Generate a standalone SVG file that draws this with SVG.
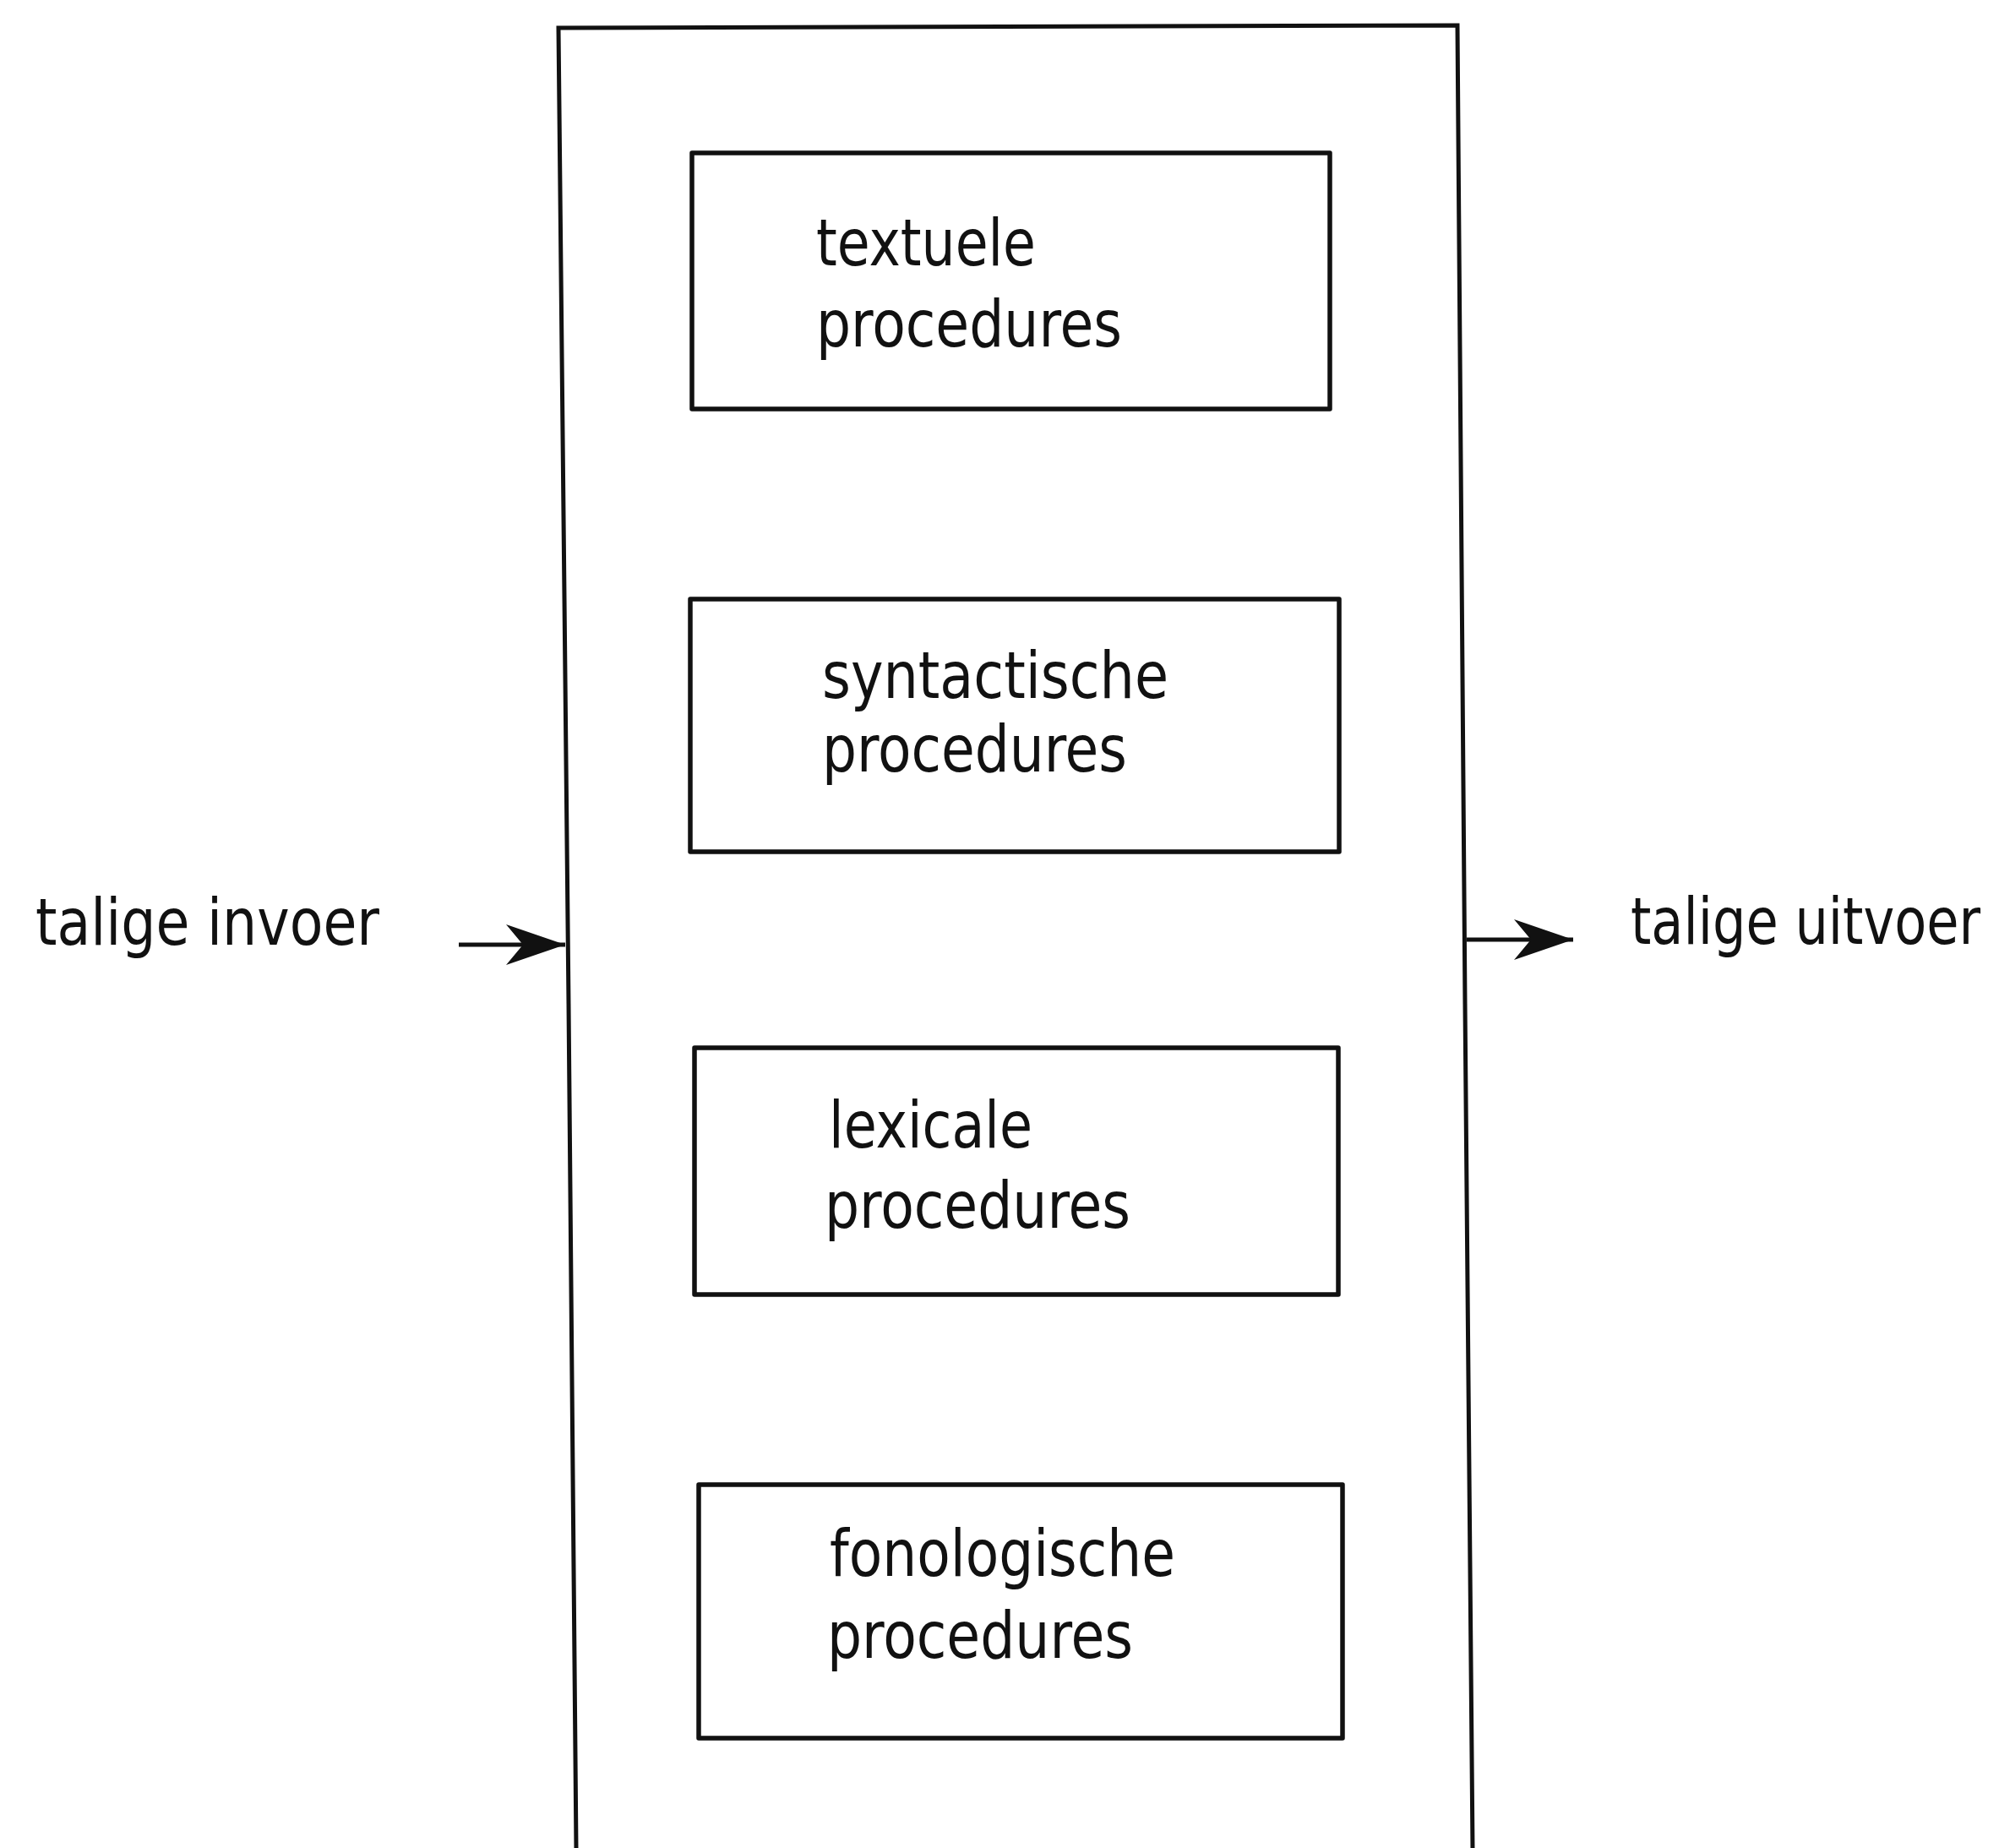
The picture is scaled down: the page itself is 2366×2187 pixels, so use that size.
<svg xmlns="http://www.w3.org/2000/svg" width="2366" height="2187" viewBox="0 0 2366 2187">
<defs>
<style>
.box{fill:none;stroke:#111;stroke-width:5.5;stroke-linejoin:round}
.frame{fill:none;stroke:#111;stroke-width:5}
.lbl{font-family:"DejaVu Sans Condensed","Liberation Sans",sans-serif;font-size:76px;fill:#111}
.conn{fill:none;stroke:#111;stroke-width:5}
</style>
<marker id="arr" markerUnits="userSpaceOnUse" markerWidth="90" markerHeight="60" refX="0" refY="0" viewBox="-80 -30 90 60" orient="auto">
<path d="M0,0 L-70,-24 L-50,0 L-70,24 Z" fill="#111"/>
</marker>
</defs>
<rect width="2366" height="2187" fill="#fff"/>
<g id="frame">
<polyline class="frame" points="682,2190 673,1188 661,33 1725,30 1734,1188 1743,2190"/>
</g>
<g id="textuele">
<rect class="box" x="819" y="181" width="755" height="303"/>
<text class="lbl" x="966" y="314" textLength="260" lengthAdjust="spacingAndGlyphs">textuele</text>
<text class="lbl" x="966" y="410" textLength="362" lengthAdjust="spacingAndGlyphs">procedures</text>
</g>
<g id="syntactische">
<rect class="box" x="817" y="709" width="768" height="299"/>
<text class="lbl" x="973" y="826" textLength="410" lengthAdjust="spacingAndGlyphs">syntactische</text>
<text class="lbl" x="973" y="913" textLength="361" lengthAdjust="spacingAndGlyphs">procedures</text>
</g>
<g id="lexicale">
<rect class="box" x="822" y="1240" width="762" height="292"/>
<text class="lbl" x="981" y="1358" textLength="241" lengthAdjust="spacingAndGlyphs">lexicale</text>
<text class="lbl" x="976" y="1453" textLength="362" lengthAdjust="spacingAndGlyphs">procedures</text>
</g>
<g id="fonologische">
<rect class="box" x="827" y="1757" width="762" height="300"/>
<text class="lbl" x="982" y="1865" textLength="409" lengthAdjust="spacingAndGlyphs">fonologische</text>
<text class="lbl" x="979" y="1962" textLength="362" lengthAdjust="spacingAndGlyphs">procedures</text>
</g>
<g id="invoer">
<text class="lbl" x="42" y="1118" textLength="407" lengthAdjust="spacingAndGlyphs">talige invoer</text>
</g>
<g id="uitvoer">
<text class="lbl" transform="translate(1930,1117) scale(0.9,1)" x="0" y="0" textLength="460" lengthAdjust="spacingAndGlyphs">talige uitvoer</text>
</g>
<g id="connectors">
<line class="conn" x1="543" y1="1118" x2="669" y2="1118" marker-end="url(#arr)"/>
<line class="conn" x1="1736" y1="1112" x2="1862" y2="1112" marker-end="url(#arr)"/>
</g>
</svg>
